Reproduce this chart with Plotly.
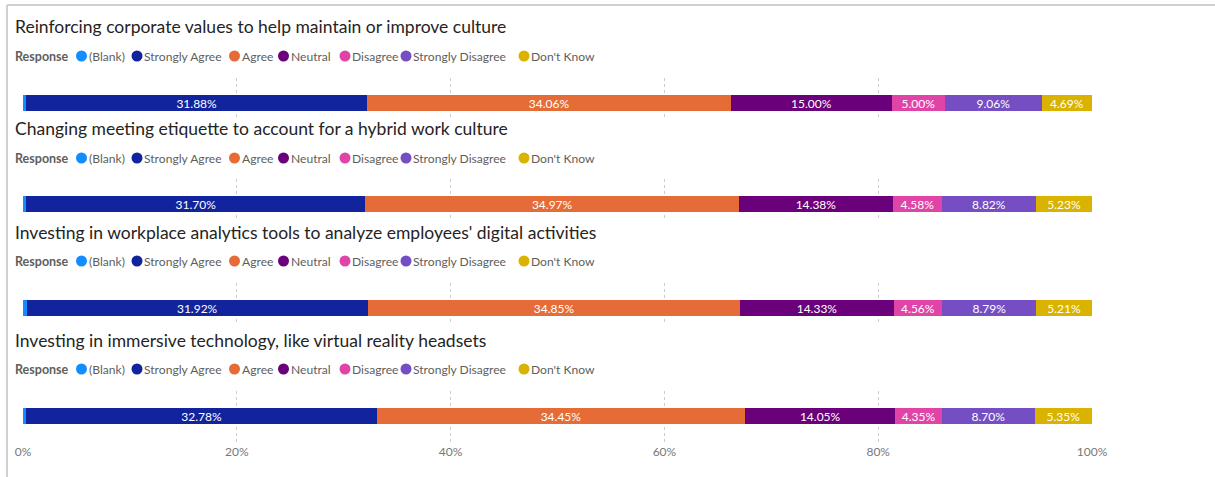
import plotly.graph_objects as go

W, H = 1215, 477

questions = [
    "Reinforcing corporate values to help maintain or improve culture",
    "Changing meeting etiquette to account for a hybrid work culture",
    "Investing in workplace analytics tools to analyze employees' digital activities",
    "Investing in immersive technology, like virtual reality headsets",
]
responses = ["(Blank)", "Strongly Agree", "Agree", "Neutral", "Disagree", "Strongly Disagree", "Don't Know"]
colors = ["#118DFF", "#12239E", "#E66C37", "#6B007B", "#E044A7", "#744EC2", "#D9B300"]

blank = [0.31, 0.32, 0.34, 0.32]
strongly_agree = [31.88, 31.70, 31.92, 32.78]
agree = [34.06, 34.97, 34.85, 34.45]
neutral = [15.00, 14.38, 14.33, 14.05]
disagree = [5.00, 4.58, 4.56, 4.35]
strongly_disagree = [9.06, 8.82, 8.79, 8.70]
dont_know = [4.69, 5.23, 5.21, 5.35]
series = [blank, strongly_agree, agree, neutral, disagree, strongly_disagree, dont_know]
show_label = [False, True, True, True, True, True, True]

tick_vals = [0, 20, 40, 60, 80, 100]
tick_labels = ["0%", "20%", "40%", "60%", "80%", "100%"]

# layout (pixels)
title_y = [27, 129, 232, 340]
legend_y = [56, 158, 261, 369]
bar_c = [103, 204, 308, 416]
dom_top = [78, 179, 283, 391]
dom_bot = [118, 219, 323, 443]
X0, X1 = 23, 1092
PPU = 40.0  # pixels per y unit; bar width 0.4 -> 16px
legend_circle_x = [81.5, 137, 234.5, 283.5, 345, 406, 524]

FONT = "Lato"
TXT = "#252423"
GREY = "#605E5C"


def px(x):
    return x / W


def py(y):
    return 1 - y / H


fig = go.Figure()
layout = dict(
    width=W, height=H, margin=dict(l=0, r=0, t=0, b=0, pad=0),
    autosize=False,
    paper_bgcolor="white", plot_bgcolor="white",
    barmode="stack", showlegend=False,
    font=dict(family=FONT, color=TXT),
)
annotations = []
shapes = []

for r in range(4):
    xa = "x" if r == 0 else f"x{r+1}"
    ya = "y" if r == 0 else f"y{r+1}"
    for s, vals in enumerate(series):
        v = vals[r]
        fig.add_trace(go.Bar(
            x=[v], y=[0], orientation="h", width=0.4,
            marker=dict(color=colors[s], line=dict(width=0)),
            text=[f"{v:.2f}%"] if show_label[s] else None,
            textposition="inside", insidetextanchor="middle",
            textangle=0, constraintext="none",
            textfont=dict(color="white", size=12, family=FONT),
            xaxis=xa, yaxis=ya, hoverinfo="skip",
        ))
    key_x = "xaxis" if r == 0 else f"xaxis{r+1}"
    key_y = "yaxis" if r == 0 else f"yaxis{r+1}"
    c, t, b = bar_c[r], dom_top[r], dom_bot[r]
    layout[key_x] = dict(
        domain=[px(X0), px(X1)], anchor=ya, range=[0, 100],
        tickvals=tick_vals, ticktext=tick_labels,
        showticklabels=(r == 3), ticks="", automargin=False,
        showgrid=True, gridcolor="#CCCCCC", griddash="dot", gridwidth=1,
        zeroline=False, showline=False, fixedrange=True,
        tickfont=dict(size=12, color="#777777", family=FONT),
    )
    layout[key_y] = dict(
        domain=[py(b), py(t)], anchor=xa,
        range=[-(b - c) / PPU, (c - t) / PPU],
        visible=False, fixedrange=True, automargin=False,
    )
    # title
    annotations.append(dict(
        text=questions[r], x=px(13), y=py(title_y[r]), xref="paper", yref="paper",
        xanchor="left", yanchor="middle", showarrow=False,
        font=dict(size=17.5, color=TXT, family=FONT),
    ))
    # legend
    annotations.append(dict(
        text="<b>Response</b>", x=px(13), y=py(legend_y[r]), xref="paper", yref="paper",
        xanchor="left", yanchor="middle", showarrow=False,
        font=dict(size=12.5, color=GREY, family=FONT),
    ))
    for s, name in enumerate(responses):
        cx = legend_circle_x[s]
        shapes.append(dict(
            type="circle", xref="paper", yref="paper",
            x0=px(cx - 5.5), x1=px(cx + 5.5), y0=py(legend_y[r] + 5.5), y1=py(legend_y[r] - 5.5),
            fillcolor=colors[s], line=dict(width=0),
        ))
        annotations.append(dict(
            text=name, x=px(cx + 5), y=py(legend_y[r]), xref="paper", yref="paper",
            xanchor="left", yanchor="middle", showarrow=False,
            font=dict(size=12.1, color=GREY, family=FONT),
        ))

# frame
shapes.append(dict(type="line", xref="paper", yref="paper", x0=px(7), x1=px(1215), y0=py(5), y1=py(5),
                   line=dict(color="#D0D0D0", width=2)))
shapes.append(dict(type="line", xref="paper", yref="paper", x0=px(7), x1=px(7), y0=py(5), y1=py(477),
                   line=dict(color="#D0D0D0", width=2)))

layout["annotations"] = annotations
layout["shapes"] = shapes
fig.update_layout(**layout)
fig.write_html(
    "out.html",
    config={"responsive": False, "displayModeBar": False},
    post_script="document.body.style.margin='0';document.body.style.overflow='hidden';",
)
